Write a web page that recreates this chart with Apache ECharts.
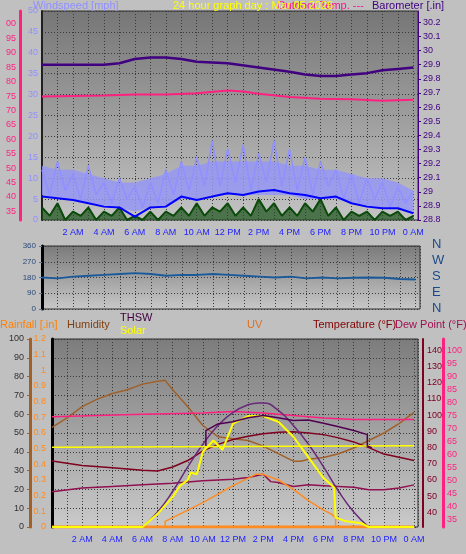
<!DOCTYPE html>
<html><head><meta charset="utf-8">
<script src="https://cdn.jsdelivr.net/npm/echarts@6/dist/echarts.min.js"></script>
<style>html,body{margin:0;padding:0;background:#c0c0c0}#c{width:466px;height:554px}</style>
</head><body><div id="c"></div>
<script>
const baroH=[0,2,4,5,6,7,8,9,10,12,14,16,17,18,19,20,21,22,23,24];
const baroV=[29.9,29.9,29.9,29.91,29.94,29.95,29.95,29.94,29.92,29.91,29.88,29.85,29.83,29.82,29.82,29.83,29.84,29.86,29.87,29.88];
const topTempH=[0,2,4,6,8,10,12,13,14,16,18,20,22,24];
const topTempV=[74.8,75,75.2,75.5,75.5,76,76.9,76.6,75.8,74.7,74.1,73.9,73.4,73.7];
const hourly=[0,1,2,3,4,5,6,7,8,9,10,11,12,13,14,15,16,17,18,19,20,21,22,23,24];
const windAvg=[5.6,5.2,4.8,4,3.2,3,0.8,3,3.2,5.6,4.8,5.6,6.4,6,6.8,7.2,6.4,6,5.2,5.6,4,3.2,2.8,2.8,1.6];
const gustBandLow=[6,5,5,4,3,3,2,3,3,5,5,6,6,6,6,6,6,5,5,5,4,3,3,3,2];
const gustBandHigh=[13,12,12,11,10,9,9,10,11,13,13,14,14,14,14,14,13,13,12,12,11,10,10,9,7];
const halfHours=[0,0.5,1,1.5,2,2.5,3,3.5,4,4.5,5,5.5,6,6.5,7,7.5,8,8.5,9,9.5,10,10.5,11,11.5,12,12.5,13,13.5,14,14.5,15,15.5,16,16.5,17,17.5,18,18.5,19,19.5,20,20.5,21,21.5,22,22.5,23,23.5,24];
const windGust=[12,6,14,7,11,5,13,6,9,4,10,5,8,3,9,4,12,6,14,7,15,8,19,8,17,9,18,7,16,9,19,8,17,7,15,6,14,8,12,5,11,4,10,5,9,3,8,4,7];
const windLow=[3,1,4,0,2,1,3,0,2,1,3,0,1,0,2,0,2,1,3,1,4,1,3,2,4,1,3,1,5,2,4,1,3,1,4,2,5,1,3,0,2,1,2,0,2,1,2,0,1];
const windDir=[180,175,185,190,195,200,205,200,190,195,195,200,195,190,185,180,185,175,180,175,178,180,178,172,168];
const humH=[0,1,2,3,4,5,6,7,7.5,8,9,10,11,12,13,14,15,16,16.5,17,18,19,20,21,22,23,24];
const humV=[53,58,64,68,71,73,76,77.5,78,73,64,54,48,47,46,43,39,35,35,36,37,39,42,46,50,55,61];
const tempH=[0,2,4,6,7,8,9,10,11,12,13,14,15,16,17,18,19,20,21,22,23,24];
const tempV=[71.7,69,67.5,66,65.5,68,72,78,82,85,87,88.5,89.5,89.7,89,88,86,83.5,80,76,74,72];
const dewH=[0,3,6,10,12,14,16,18,20,24];
const dewV=[74.5,75,75.5,76,76.5,76,75,74,73.5,73.5];
const feelH=[0,2,4,6,8,10,12,13,14,14.5,15,16,17,18,19,20,21,22,23,24];
const feelV=[52.7,55,56,57,58,59.5,60.5,61.5,63.5,59,58.5,56,57,56.5,56,55.5,54,54,55,57];
const thswH=[10.2,10.2,11,12,13,14,15,16,17,18,19,20,20.9,20.9,21.2];
const thswV=[81,90.5,94.6,96,98.4,99.8,98.4,96.7,97,95,92.8,90.5,88,81,80];
const domeH=[6,7,8,9,10,11,12,13,13.7,14,15,16,17,18,19,20,21];
const domeV=[0,0.08,0.19,0.32,0.44,0.54,0.61,0.65,0.66,0.66,0.62,0.54,0.44,0.32,0.19,0.08,0];
const solarH=[0,6,7,8,8.5,9,9.2,9.6,10,10.7,11.3,11.5,12,13,14,15,16,17,18,18.7,18.8,19.5,20.5,21,24];
const solarV=[0,0,0.07,0.16,0.22,0.25,0.29,0.28,0.40,0.46,0.41,0.45,0.55,0.59,0.59,0.56,0.48,0.37,0.26,0.21,0.05,0.03,0.02,0,0];
const solarFlatH=[0,0.6,0.6,24];
const solarFlatV=[0.424,0.424,0.432,0.432];
const uvH=[0,7.5,7.5,8,10,12,13.5,14,15,16,17,18,18.5,18.8,18.8,24];
const uvV=[0,0,0.03,0.05,0.13,0.22,0.28,0.28,0.25,0.2,0.14,0.09,0.07,0.05,0,0];
const rainH=[0,24];
const rainV=[0,0];

const zip=(h,v)=>h.map((x,i)=>[x,v[i]]);
const F='Liberation Sans';
const timeFmt=v=>{if(v%2!==0||v===0)return '';const h=v%24;if(h===0)return '0 AM';if(h===12)return '12 PM';return h<12?h+' AM':(h-12)+' PM';};
const dotted={show:true,lineStyle:{color:'#3a3a3a',type:[1,2],width:1}};
const bg=(a,b)=>({type:'linear',x:0,y:0,x2:0,y2:1,colorStops:[{offset:0,color:a},{offset:1,color:b}]});
function xA(grid,max,showLabels){return {type:'value',gridIndex:grid,min:0,max:max,interval:1,
 axisLine:{show:false},axisTick:{show:false},splitLine:dotted,
 axisLabel:{show:showLabels,formatter:timeFmt,color:'#2020ff',fontSize:9,fontFamily:F,margin:8,showMaxLabel:false,hideOverlap:false}};}
const lbl=(c,extra)=>Object.assign({color:c,fontSize:9,fontFamily:F},extra||{});
const ln=(name,x,y,data,color,w,extra)=>Object.assign({name,type:'line',xAxisIndex:x,yAxisIndex:y,data,showSymbol:false,symbol:'none',lineStyle:{color,width:w},itemStyle:{color},silent:true},extra||{});

const bandData=hourly.map((h,i)=>[h,gustBandLow[i],gustBandHigh[i]]);
const bandSeries={type:'custom',xAxisIndex:0,yAxisIndex:0,silent:true,data:[0],
 renderItem:(params,api)=>{
   const top=bandData.map(d=>api.coord([d[0],d[2]]));
   const bot=bandData.slice().reverse().map(d=>api.coord([d[0],d[1]]));
   return {type:'polygon',shape:{points:top.concat(bot)},style:{fill:'rgba(150,150,245,0.85)'}};
 }};

const option={animation:false,backgroundColor:'#c0c0c0',
grid:[
 {left:42,top:11,width:376,height:209,show:true,backgroundColor:bg('#767676','#c4c4c4'),borderColor:'#303030',borderWidth:1},
 {left:42,top:246,width:378,height:63,show:true,backgroundColor:bg('#7a7a7a','#c8c8c8'),borderColor:'#303030',borderWidth:1},
 {left:52,top:339,width:366,height:188,show:true,backgroundColor:bg('#7c7c7c','#cacaca'),borderColor:'#303030',borderWidth:1}
],
xAxis:[xA(0,24.3,true),xA(1,24.3,false),xA(2,24.26,true)],
yAxis:[
 {type:'value',gridIndex:0,min:0,max:50,interval:5,position:'left',axisLine:{show:true,lineStyle:{color:'#202020',width:2}},axisTick:{show:false},axisLabel:lbl('#9090ff',{margin:4}),splitLine:dotted},
 {type:'value',gridIndex:0,min:32,max:104.5,interval:1,position:'left',offset:22,axisLine:{show:true,lineStyle:{color:'#ff2080',width:3}},axisTick:{show:false},splitLine:{show:false},axisLabel:lbl('#ff2080',{margin:4,formatter:v=>v%5===0?String(v%100).padStart(2,'0'):'',showMaxLabel:false})},
 {type:'value',gridIndex:0,min:28.8,max:30.28,interval:0.1,position:'right',axisLine:{show:true,lineStyle:{color:'#400080',width:1}},axisTick:{show:true,length:3,lineStyle:{color:'#400080'}},splitLine:{show:false},axisLabel:lbl('#400080',{margin:5,formatter:v=>String(parseFloat(v.toFixed(2))),showMaxLabel:false})},
 {type:'value',gridIndex:1,min:0,max:360,interval:90,position:'left',axisLine:{show:true,lineStyle:{color:'#000',width:3}},axisTick:{show:true,length:3,lineStyle:{color:'#4a7aaa'}},splitLine:dotted,axisLabel:lbl('#2a4a7a',{fontSize:8,margin:6})},
 {type:'value',gridIndex:2,min:0,max:1.2,interval:0.1,position:'left',axisLine:{show:true,lineStyle:{color:'#000',width:3}},axisTick:{show:false},splitLine:{show:false},axisLabel:lbl('#ff8c20',{margin:6,formatter:v=>String(parseFloat(v.toFixed(1)))})},
 {type:'value',gridIndex:2,min:0,max:100,interval:10,position:'left',offset:22,axisLine:{show:true,lineStyle:{color:'#a0602a',width:3}},axisTick:{show:true,length:3,lineStyle:{color:'#a0602a'}},splitLine:dotted,axisLabel:lbl('#303030',{margin:6})},
 {type:'value',gridIndex:2,min:31,max:147,interval:1,position:'right',offset:5,axisLine:{show:true,lineStyle:{color:'#800020',width:2}},axisTick:{show:false},splitLine:{show:false},axisLabel:lbl('#800020',{margin:4,formatter:v=>(v%10===0&&v>=40&&v<=140)?String(v):''})},
 {type:'value',gridIndex:2,min:32,max:104.5,interval:1,position:'right',offset:25,axisLine:{show:true,lineStyle:{color:'#ff2080',width:3}},axisTick:{show:false},splitLine:{show:false},axisLabel:lbl('#ff2080',{margin:4,formatter:v=>(v%5===0)?String(v):'',showMaxLabel:false})},
 {type:'value',gridIndex:2,min:0,max:1,show:false,splitLine:{show:false}}
],
series:[
 bandSeries,
 ln('gust',0,0,zip(halfHours,windGust),'#9090ff',1.5),
 ln('low',0,0,zip(halfHours,windLow),'#0a4a0a',2,{areaStyle:{color:'#1a501a',opacity:0.7}}),
 ln('avg',0,0,zip(hourly,windAvg),'#0000ff',2),
 ln('baro',0,2,zip(baroH,baroV),'#400080',2.5),
 ln('topTemp',0,1,zip(topTempH,topTempV),'#ff2080',2),
 ln('dir',1,3,zip(hourly,windDir),'#1a5a9a',2),
 ln('rain',2,4,zip(rainH,rainV),'#ff8c20',3),
 ln('hum',2,5,zip(humH,humV),'#a0602a',1.5),
 ln('feel',2,6,zip(feelH,feelV),'#901050',1.5),
 ln('temp',2,6,zip(tempH,tempV),'#800020',1.5),
 ln('dew',2,7,zip(dewH,dewV),'#ff2080',1.5),
 ln('uv',2,8,zip(uvH,uvV),'#ff8c20',1.5),
 ln('dome',2,8,zip(domeH,domeV),'#6a2a7a',1.5,{smooth:true}),
 ln('solarFlat',2,8,zip(solarFlatH,solarFlatV),'#ffff00',1.5),
 ln('solar',2,8,zip(solarH,solarV),'#ffff00',2),
 ln('thsw',2,6,zip(thswH,thswV),'#500050',1.5)
],
graphic:[
 {type:'text',left:33,top:0,style:{text:'Windspeed [mph]',fill:'#9090ff',font:'11px '+F}},
 {type:'text',left:277,top:0,style:{text:'Outdoor Temp. ---',fill:'#ff1493',font:'11px '+F}},
 {type:'text',left:173,top:0,style:{text:'24 hour graph day : Mar 05 2026',fill:'#ffff00',font:'11px '+F}},
 {type:'text',left:372,top:0,style:{text:'Barometer [.in]',fill:'#400080',font:'11px '+F}},
 {type:'text',left:432,top:238,style:{text:'N',fill:'#1a4a8a',font:'13px '+F}},
 {type:'text',left:432,top:254,style:{text:'W',fill:'#1a4a8a',font:'13px '+F}},
 {type:'text',left:432,top:270,style:{text:'S',fill:'#1a4a8a',font:'13px '+F}},
 {type:'text',left:432,top:286,style:{text:'E',fill:'#1a4a8a',font:'13px '+F}},
 {type:'text',left:432,top:302,style:{text:'N',fill:'#1a4a8a',font:'13px '+F}},
 {type:'text',left:0,top:319,style:{text:'Rainfall [.in]',fill:'#ff8000',font:'11px '+F}},
 {type:'text',left:67,top:319,style:{text:'Humidity',fill:'#804010',font:'11px '+F}},
 {type:'text',left:120,top:312,style:{text:'THSW',fill:'#400040',font:'11px '+F}},
 {type:'text',left:120,top:325,style:{text:'Solar',fill:'#ffff00',font:'11px '+F}},
 {type:'text',left:247,top:319,style:{text:'UV',fill:'#e07020',font:'11px '+F}},
 {type:'text',left:313,top:319,style:{text:'Temperature (°F)',fill:'#800000',font:'11px '+F}},
 {type:'text',left:395,top:319,style:{text:'Dew Point (°F)',fill:'#a01050',font:'11px '+F}}
]};
echarts.init(document.getElementById('c'),null,{renderer:'canvas'}).setOption(option);
</script></body></html>
